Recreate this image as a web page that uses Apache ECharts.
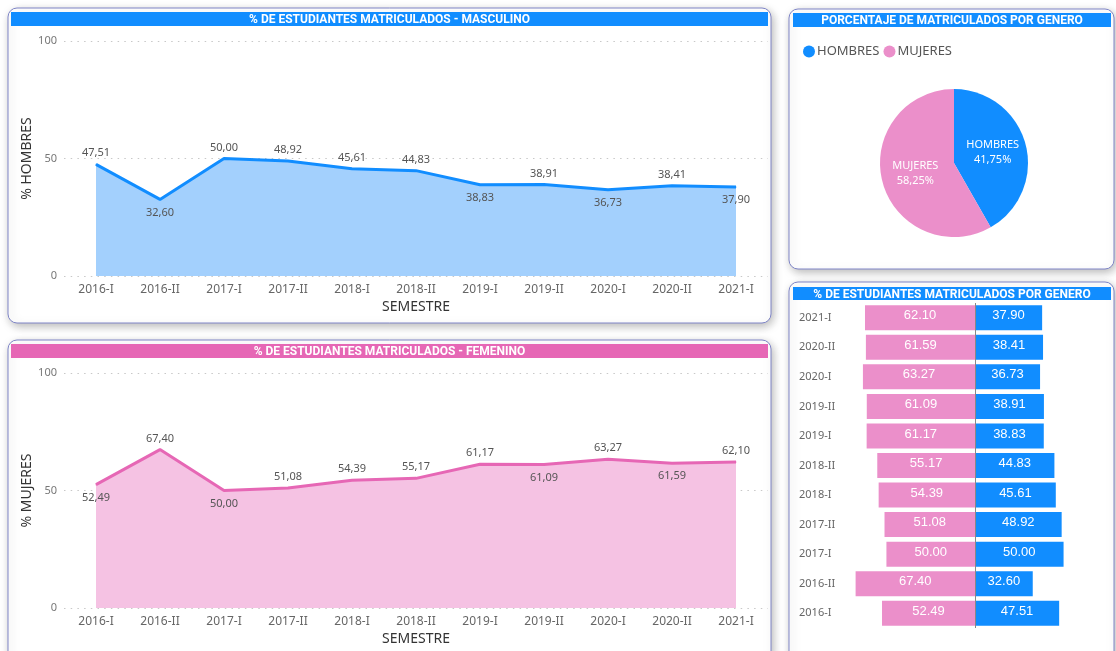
<!DOCTYPE html>
<html>
<head>
<meta charset="utf-8">
<script src="https://cdn.jsdelivr.net/npm/echarts@6/dist/echarts.min.js"></script>
<style>
  html, body { margin: 0; padding: 0; background: #fff; }
  #tablero { width: 1116px; height: 651px; }
</style>
</head>
<body>
<div id="tablero"></div>
<script>
// datos por semestre
var semestres = ['2016-I', '2016-II', '2017-I', '2017-II', '2018-I', '2018-II', '2019-I', '2019-II', '2020-I', '2020-II', '2021-I'];
var hombres = [47.51, 32.60, 50.00, 48.92, 45.61, 44.83, 38.83, 38.91, 36.73, 38.41, 37.90];
var mujeres = [52.49, 67.40, 50.00, 51.08, 54.39, 55.17, 61.17, 61.09, 63.27, 61.59, 62.10];
// totales del periodo (pastel)
var generos = ['HOMBRES', 'MUJERES'];
var porcentajeGenero = [41.75, 58.25];
// eje Y de las lineas
var yMin = 0, yMax = 100, yPaso = 50;

var AZUL = '#118DFF', AZUL_AREA = '#A3D0FD';
var ROSA_LINEA = '#E667B5', ROSA_AREA = '#F5C2E3', ROSA = '#EB8FCA';
var FUENTE = 'Noto Sans';

// donde va cada etiqueta (arriba / abajo), como en el original
var ladoH = ['top', 'bottom', 'top', 'top', 'top', 'top', 'bottom', 'top', 'bottom', 'top', 'bottom'];
var ladoM = ['bottom', 'top', 'bottom', 'top', 'top', 'top', 'top', 'bottom', 'top', 'bottom', 'top'];

function coma(v) {
    return v.toFixed(2).replace('.', ',');
}

function puntos(valores, lados) {
    return valores.map(function (v, i) {
        return {
            value: v,
            label: {position: lados[i], distance: lados[i] == 'top' ? 5 : 7}
        };
    });
}

function panel(x, y, w, h) {
    return {
        type: 'rect', z: -10,
        shape: {x: x, y: y, width: w, height: h, r: 9},
        style: {
            fill: '#fff', stroke: '#7E84C6', lineWidth: 1,
            shadowBlur: 10, shadowColor: 'rgba(0,0,0,0.28)', shadowOffsetX: 2, shadowOffsetY: 3
        }
    };
}

function barraTitulo(x, y, w, h, color, texto) {
    return [
        {type: 'rect', z: 50, shape: {x: x, y: y, width: w, height: h}, style: {fill: color}},
        {
            type: 'text', z: 51, x: x + w / 2, y: y + h / 2 + 1,
            style: {
                text: texto, fill: '#fff', font: 'bold 12px Roboto',
                align: 'center', verticalAlign: 'middle'
            }
        }
    ];
}

function ejeX(grid, nombre) {
    return {
        type: 'category', gridIndex: grid, data: semestres, boundaryGap: true,
        axisLine: {show: false}, axisTick: {show: false},
        axisLabel: {color: '#666', fontSize: 12, fontFamily: FUENTE, margin: 8},
        name: nombre, nameLocation: 'middle', nameGap: 24, nameMoveOverlap: false,
        nameTextStyle: {color: '#333', fontSize: 14, fontFamily: FUENTE}
    };
}

function ejeY(grid, nombre) {
    return {
        type: 'value', gridIndex: grid, min: yMin, max: yMax, interval: yPaso,
        axisLine: {show: false}, axisTick: {show: false},
        axisLabel: {color: '#777', fontSize: 11, fontFamily: FUENTE, margin: 7},
        splitLine: {lineStyle: {color: '#C8C8C8', type: [1.5, 5.2], width: 1}},
        name: nombre, nameLocation: 'middle', nameGap: 30, nameMoveOverlap: false,
        nameTextStyle: {color: '#333', fontSize: 14, fontFamily: FUENTE}
    };
}

function serieLinea(nombre, grid, valores, lados, linea, area) {
    return {
        name: nombre, type: 'line', xAxisIndex: grid, yAxisIndex: grid,
        data: puntos(valores, lados),
        symbol: 'circle', symbolSize: 1,
        itemStyle: {color: linea},
        lineStyle: {color: linea, width: 3},
        areaStyle: {color: area, opacity: 1},
        label: {
            show: true, color: '#555', fontSize: 11, fontFamily: FUENTE,
            formatter: function (p) { return coma(p.value); }
        },
        silent: true
    };
}

function dibujar() {
    var myChart = echarts.init(document.getElementById('tablero'));

    var graficos = [
        panel(8, 8, 763, 315),
        panel(8, 340, 763, 320),
        panel(789, 9, 325, 260),
        panel(789, 282, 325, 380)
    ];
    graficos = graficos
        .concat(barraTitulo(11, 12, 757, 14, AZUL, '% DE ESTUDIANTES MATRICULADOS - MASCULINO'))
        .concat(barraTitulo(11, 344, 757, 14, ROSA_LINEA, '% DE ESTUDIANTES MATRICULADOS - FEMENINO'))
        .concat(barraTitulo(793, 13, 318, 14, AZUL, 'PORCENTAJE DE MATRICULADOS POR GENERO'))
        .concat(barraTitulo(793, 287, 318, 13, AZUL, '% DE ESTUDIANTES MATRICULADOS POR GENERO'));

    var option = {
        animation: false,
        textStyle: {fontFamily: FUENTE},
        graphic: graficos,
        legend: {
            data: generos, left: 798, top: 40, icon: 'circle',
            itemWidth: 12, itemHeight: 12, itemGap: 4,
            textStyle: {color: '#555', fontSize: 13, fontFamily: FUENTE, padding: [0, 0, 0, -3]}
        },
        grid: [
            {left: 64, right: 348, top: 41, bottom: 375, outerBoundsMode: 'none'},
            {left: 64, right: 348, top: 373, bottom: 43, outerBoundsMode: 'none'},
            {left: 851, right: 17, top: 303, bottom: 23, outerBoundsMode: 'none'}
        ],
        xAxis: [
            ejeX(0, 'SEMESTRE'),
            ejeX(1, 'SEMESTRE'),
            {type: 'value', gridIndex: 2, min: -70, max: 70, show: false}
        ],
        yAxis: [
            ejeY(0, '% HOMBRES'),
            ejeY(1, '% MUJERES'),
            {
                type: 'category', gridIndex: 2, data: semestres,
                axisLine: {show: false, onZero: false}, axisTick: {show: false},
                axisLabel: {color: '#666', fontSize: 11, fontFamily: FUENTE, align: 'left', margin: 52}
            }
        ],
        series: [
            serieLinea('% HOMBRES', 0, hombres, ladoH, AZUL, AZUL_AREA),
            serieLinea('% MUJERES', 1, mujeres, ladoM, ROSA_LINEA, ROSA_AREA),
            {
                name: 'MUJERES ', type: 'bar', xAxisIndex: 2, yAxisIndex: 2,
                data: mujeres.map(function (v) { return -v; }),
                barWidth: 25, barGap: '-100%',
                itemStyle: {color: ROSA},
                label: {
                    show: true, position: 'inside', color: '#fff', fontSize: 13, fontFamily: 'Liberation Sans',
                    offset: [0, -2],
                    formatter: function (p) { return Math.abs(p.value).toFixed(2); }
                },
                markLine: {
                    silent: true, symbol: 'none', label: {show: false},
                    lineStyle: {color: '#888', width: 1, type: 'solid'},
                    data: [{xAxis: 0}]
                }
            },
            {
                name: 'HOMBRES ', type: 'bar', xAxisIndex: 2, yAxisIndex: 2,
                data: hombres,
                barWidth: 25, barGap: '-100%',
                itemStyle: {color: AZUL},
                label: {
                    show: true, position: 'inside', color: '#fff', fontSize: 13, fontFamily: 'Liberation Sans',
                    offset: [0, -2],
                    formatter: function (p) { return p.value.toFixed(2); }
                }
            },
            {
                name: 'Genero', type: 'pie', center: [954, 163], radius: 74,
                startAngle: 90, clockwise: true,
                data: generos.map(function (g, i) {
                    return {name: g, value: porcentajeGenero[i], itemStyle: {color: i == 0 ? AZUL : ROSA}};
                }),
                label: {
                    position: 'inside', color: '#fff', fontSize: 11, lineHeight: 15, fontFamily: FUENTE,
                    formatter: function (p) { return p.name + '\n' + coma(p.value) + '%'; }
                },
                labelLine: {show: false},
                silent: true
            }
        ]
    };
    myChart.setOption(option);
}

dibujar();
</script>
</body>
</html>
